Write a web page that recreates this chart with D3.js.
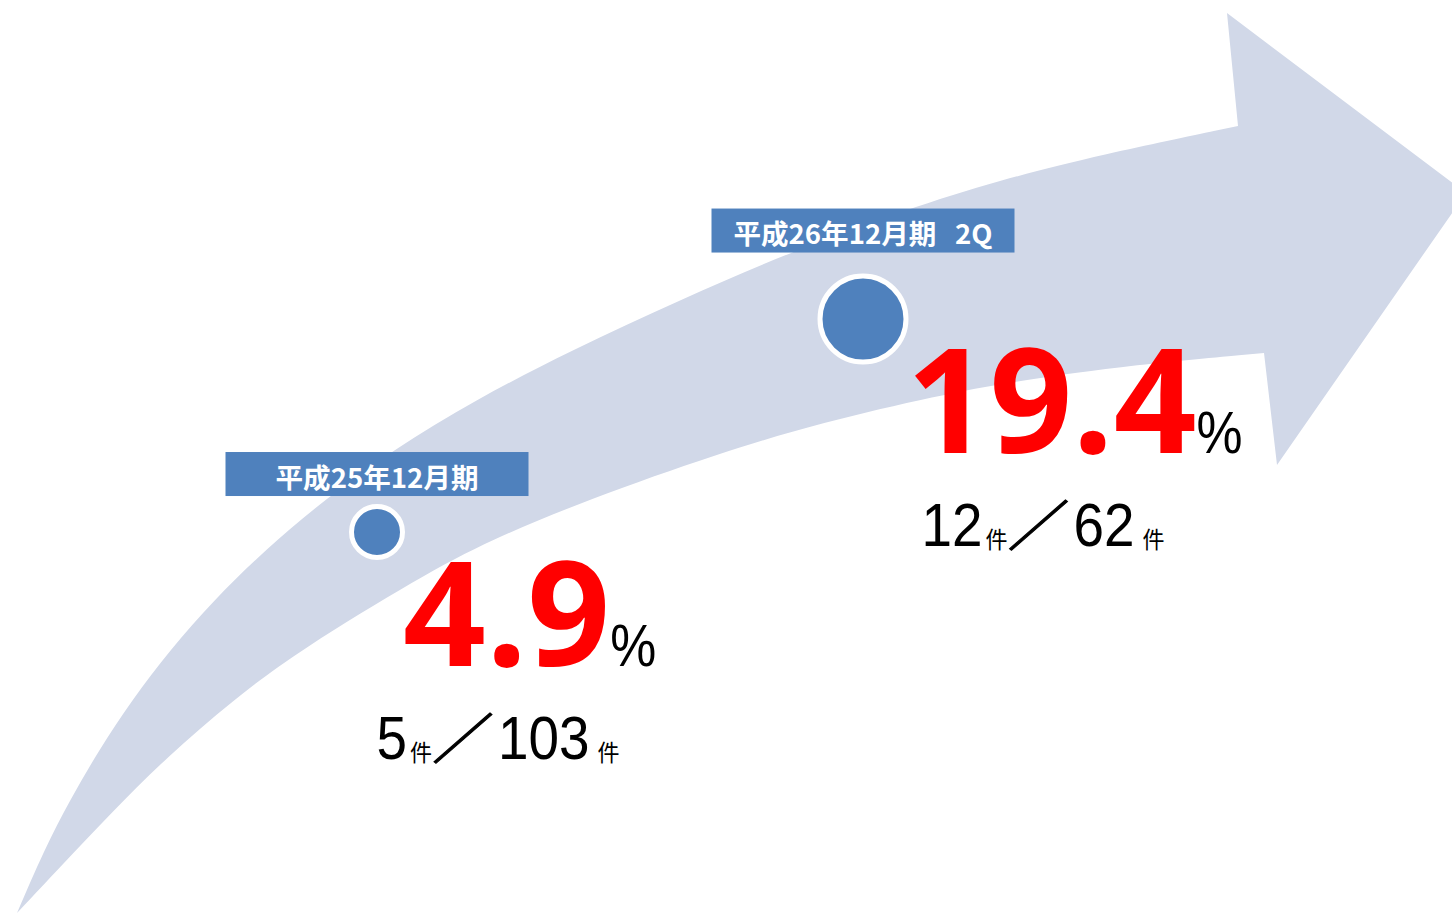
<!DOCTYPE html>
<html>
<head>
<meta charset="utf-8">
<script src="https://cdn.jsdelivr.net/npm/d3@7"></script>
<style>
  html, body { margin: 0; padding: 0; background: #fff; overflow: hidden; }
  svg { display: block; }
</style>
</head>
<body>
<svg id="chart" width="1452" height="915"></svg>
<script>
// ---- data ----
const periods = ["平成25年12月期", "平成26年12月期   2Q"];
const rates   = [4.9, 19.4];   // share in percent
const cases   = [5, 12];       // matching cases
const totals  = [103, 62];     // all cases
const unit    = "件";

// ---- decorative rising arrow (background) ----
// outer (upper) edge from the tail to the shaft end, then the head, then the inner edge back to the tail
const arrowOuter = [[17,913],[44,850],[70,800],[99,750],[132,700],[170,650],[214,600],[265,550],[324,500],[393,450],[475,400],[572,350],[680,300],[795,250],[905,210],[1000,180],[1100,155],[1238,126]];
const arrowHead  = [[1227,13],[1466,193],[1277,465],[1264,353]];
const arrowInner = [[1264,353],[1113,367],[1011,382],[940,395],[820,423],[720,453],[587,500],[490,540],[420,577],[300,650],[233,700],[167,757],[112,812],[62,865],[17,913]];

// per-period lift of the caption box above its marker
const labelLift = [0, 13];

const W = 1452, H = 915;
const BLUE = "#4F81BD", ARROW = "#D1D8E8", RED = "#FF0000";

const svg = d3.select("#chart");
svg.append("rect").attr("width", W).attr("height", H).attr("fill", "#fff");

// arrow body: smooth B-spline edges joined by the arrowhead
const edge = d3.line().curve(d3.curveBasis);
const arrowPath = edge(arrowOuter)
  + arrowHead.map(p => "L" + p[0] + "," + p[1]).join("")
  + edge(arrowInner).replace(/^M/, "L") + "Z";
svg.append("path").attr("d", arrowPath).attr("fill", ARROW);

// ---- scales ----
const x = d3.scalePoint().domain(periods).range([377, 863]);
const y = d3.scaleLinear().domain([0, 20]).range([604, 310.2]);
const r = d3.scaleLinear().domain([0, 20]).range([19.6, 43.7]);

const rows = periods.map((p, i) => ({
  period: p, rate: rates[i], hit: cases[i], total: totals[i], lift: labelLift[i]
}));

const RING = 5;
const NARROW = "'Liberation Sans Narrow', 'Liberation Sans', sans-serif";
const CJK = "'Noto Sans CJK JP', sans-serif";

rows.forEach((d, i) => {
  const cx = x(d.period), cy = y(d.rate), rr = r(d.rate), ro = rr + RING / 2;
  const g = svg.append("g");

  // caption box
  const bw = 303, bh = 44;
  const by = cy - ro - 52 - d.lift;
  g.append("rect")
    .attr("x", cx - bw / 2).attr("y", by)
    .attr("width", bw).attr("height", bh)
    .attr("fill", BLUE);
  g.append("text")
    .attr("x", cx).attr("y", by + 35.5)
    .attr("text-anchor", "middle")
    .attr("font-family", CJK)
    .attr("font-weight", 700)
    .attr("font-size", 27)
    .attr("fill", "#fff")
    .attr("textLength", i === 0 ? 203 : 259)
    .attr("lengthAdjust", "spacingAndGlyphs")
    .style("white-space", "pre")
    .text(d.period);

  // marker
  g.append("circle")
    .attr("cx", cx).attr("cy", cy).attr("r", rr)
    .attr("fill", BLUE)
    .attr("stroke", "#fff").attr("stroke-width", RING);

  // big percentage
  const numX = cx + ro - 2, base = cy + 134;
  const num = g.append("text")
    .attr("x", numX).attr("y", base)
    .attr("font-family", "'Open Sans', sans-serif")
    .attr("font-weight", 700)
    .attr("font-size", 145)
    .attr("fill", RED)
    .text(d3.format(".1f")(d.rate));
  const numEnd = numX + num.node().getComputedTextLength();
  g.append("text")
    .attr("x", numEnd).attr("y", base)
    .attr("font-family", NARROW)
    .attr("font-size", 60)
    .attr("textLength", 46).attr("lengthAdjust", "spacingAndGlyphs")
    .attr("fill", "#000")
    .text("%");
  const pctEnd = numEnd + 46;

  // count line: hit件／total 件
  const rowBase = cy + 227;
  const row = g.append("g");
  let cursor = 0;
  const putNum = (v) => {
    const s = String(v);
    const w = s.length * 30.5;
    row.append("text")
      .attr("x", cursor).attr("y", 0)
      .attr("font-family", NARROW)
      .attr("font-size", 62)
      .attr("textLength", w).attr("lengthAdjust", "spacingAndGlyphs")
      .attr("fill", "#000")
      .text(s);
    cursor += w;
  };
  const putUnit = (gap) => {
    cursor += gap;
    row.append("text")
      .attr("x", cursor).attr("y", 2)
      .attr("font-family", CJK)
      .attr("font-size", 23)
      .attr("textLength", 22).attr("lengthAdjust", "spacingAndGlyphs")
      .attr("fill", "#000")
      .text(unit);
    cursor += 22;
  };
  const putSlash = (gap) => {
    cursor += gap;
    row.append("text")
      .attr("x", cursor).attr("y", 0)
      .attr("font-family", CJK)
      .attr("font-size", 54)
      .attr("textLength", 62).attr("lengthAdjust", "spacingAndGlyphs")
      .attr("fill", "#000")
      .attr("stroke", "#000").attr("stroke-width", 1.1)
      .text("／");
    cursor += 62;
  };
  putNum(d.hit);
  putUnit(3);
  putSlash(0);
  cursor += 4;
  putNum(d.total);
  putUnit(8);

  const center = (numX + pctEnd) / 2 - 31.5;
  row.attr("transform", `translate(${center - cursor / 2},${rowBase})`);
});
</script>
</body>
</html>
